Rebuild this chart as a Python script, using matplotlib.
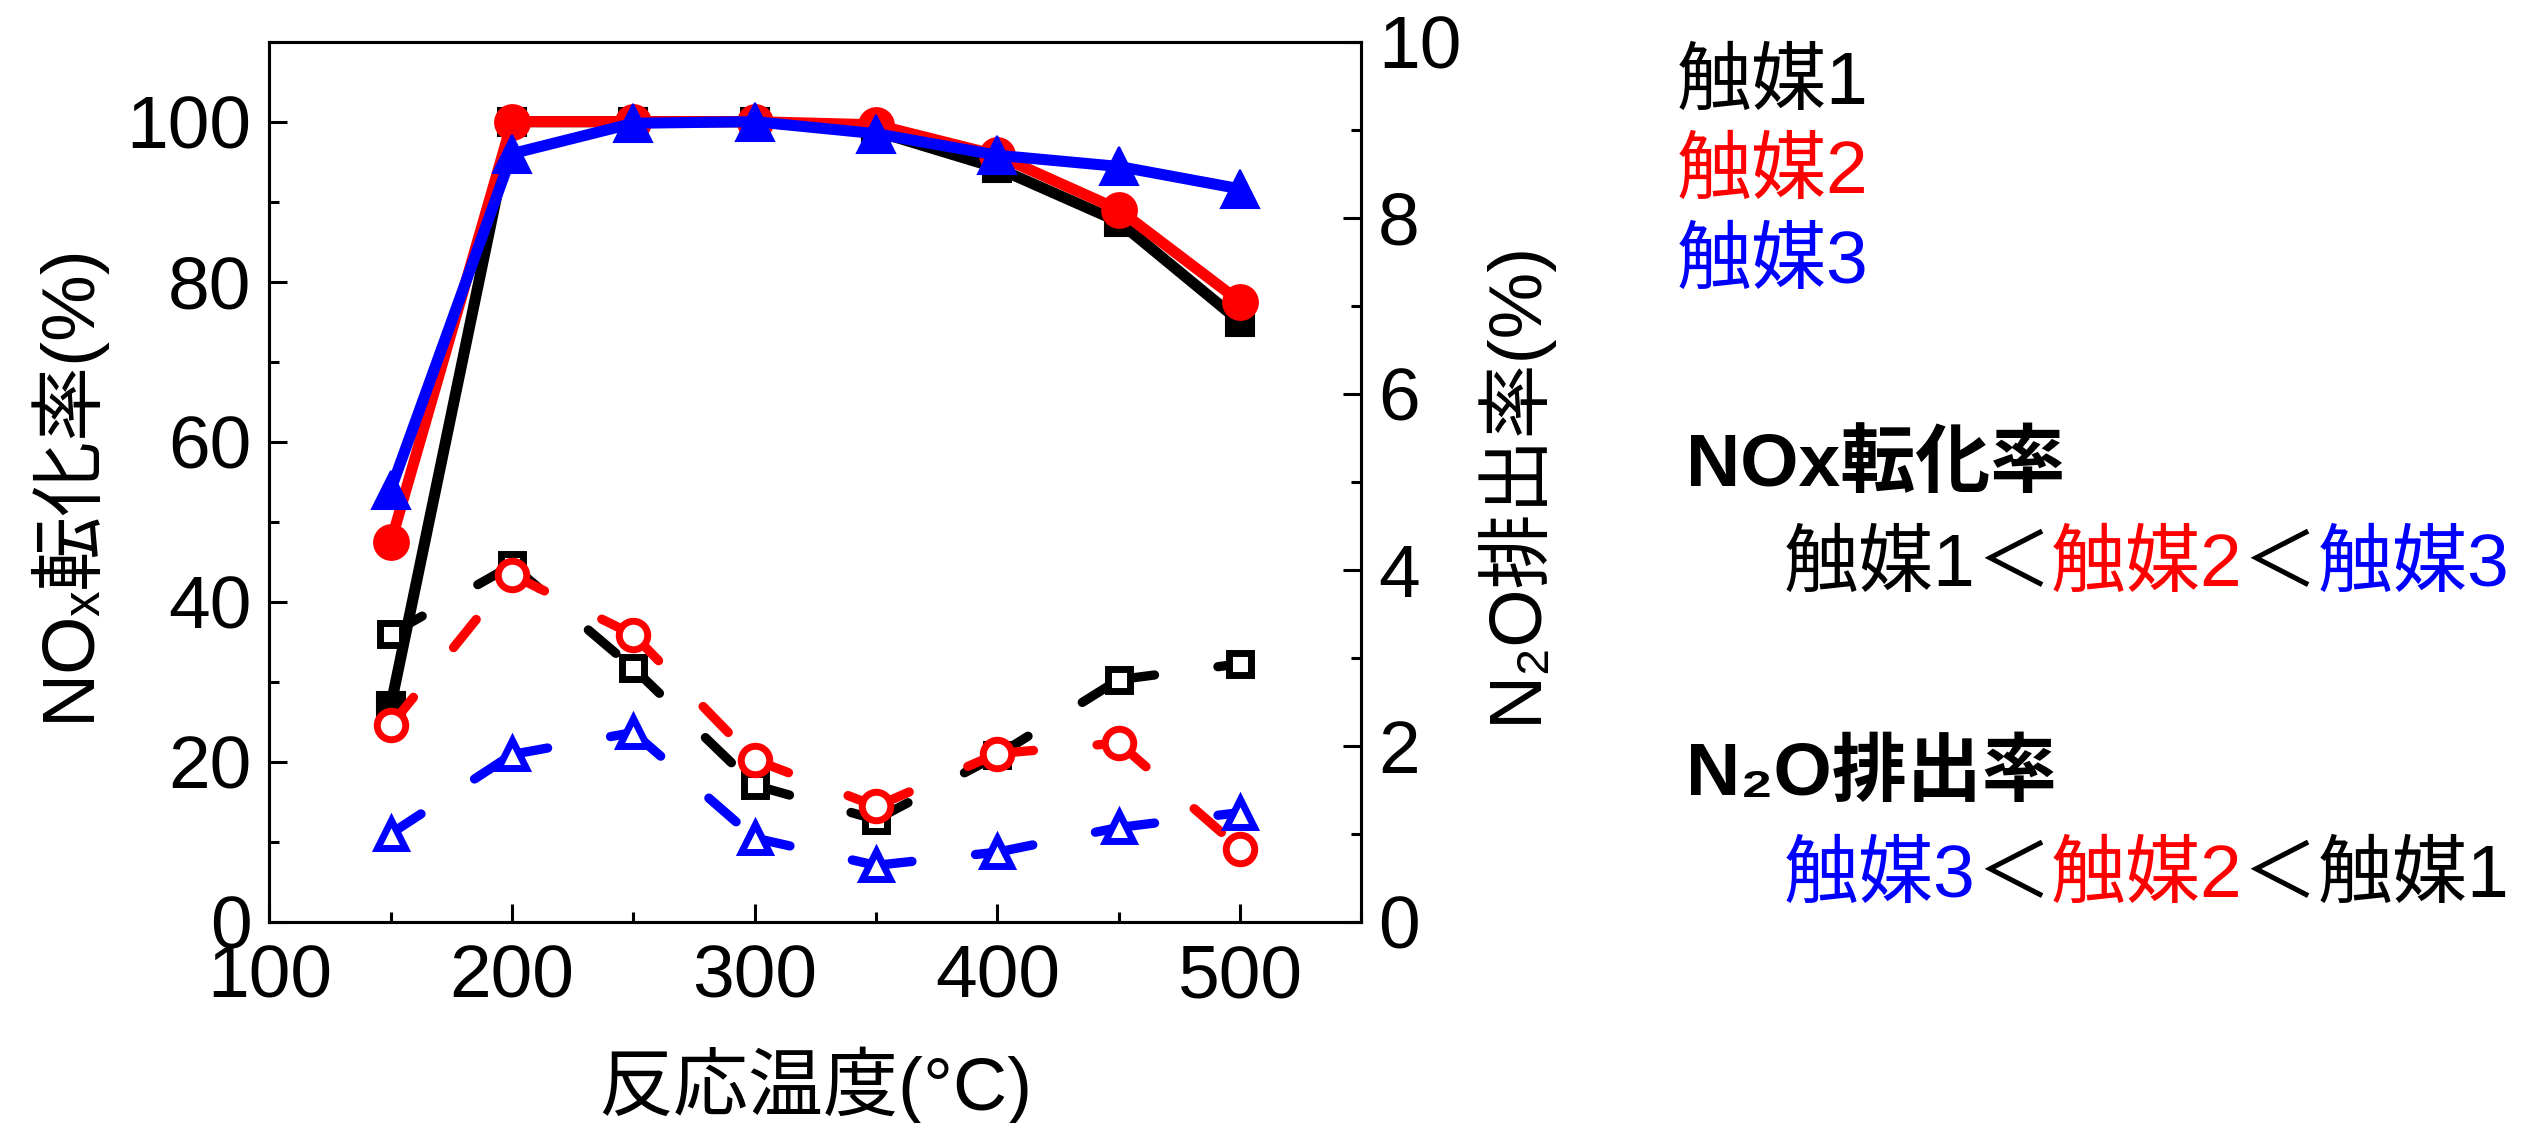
import matplotlib.pyplot as plt
from matplotlib.ticker import MultipleLocator

plt.rcParams['font.family'] = ['Liberation Sans', 'DejaVu Sans', 'Noto Sans CJK JP']
plt.rcParams['font.size'] = 54
plt.rcParams['lines.scale_dashes'] = False
plt.rcParams['axes.linewidth'] = 2.2

# reaction temperature (°C)
temps = [150, 200, 250, 300, 350, 400, 450, 500]

# NOx conversion (%), left axis
nox_cat1 = [27, 100, 100, 100, 98.8, 94.2, 87.5, 75]
nox_cat2 = [47.4, 100, 100, 100, 99.6, 95.8, 89, 77.5]
nox_cat3 = [54, 96, 99.8, 100, 98.5, 95.8, 94.4, 91.6]

# N2O emission (%), right axis
n2o_cat1 = [3.27, 4.05, 2.88, 1.55, 1.16, 1.89, 2.75, 2.93]
n2o_cat2 = [2.23, 3.94, 3.26, 1.84, 1.31, 1.91, 2.03, 0.83]
n2o_cat3 = [1.0, 1.9, 2.15, 0.95, 0.64, 0.79, 1.07, 1.24]

names = ['触媒1', '触媒2', '触媒3']
colors = ['black', 'red', 'blue']
markers = ['s', 'o', '^']
filled_size = [20, 25, 28]
open_size = [15.5, 20.5, 20.5]

fig = plt.figure(figsize=(25.3, 11.23), dpi=100)
ax = fig.add_axes([0.1065, 0.1793, 0.4316, 0.7836])
ax2 = ax.twinx()

# solid lines: NOx conversion
for nox, c, m, ms in zip([nox_cat1, nox_cat2, nox_cat3], colors, markers, filled_size):
    ax.plot(temps, nox, color=c, lw=8, marker=m, ms=ms, mec=c, mew=1.5,
            solid_joinstyle='round', solid_capstyle='round')

# dashed lines: N2O emission (dash pattern restarts at every point)
for n2o, c, m, ms in zip([n2o_cat1, n2o_cat2, n2o_cat3], colors, markers, open_size):
    for i in range(len(temps) - 1):
        ax2.plot(temps[i:i + 2], n2o[i:i + 2], color=c, lw=6.7,
                 dashes=(26, 46), dash_capstyle='round')
    ax2.plot(temps, n2o, ls='none', marker=m, ms=ms, mfc='white', mec=c, mew=5)

ax.set_xlim(100, 550)
ax.set_ylim(0, 110)
ax2.set_ylim(0, 10)

ax.xaxis.set_major_locator(MultipleLocator(100))
ax.xaxis.set_minor_locator(MultipleLocator(50))
ax.yaxis.set_major_locator(MultipleLocator(20))
ax.yaxis.set_minor_locator(MultipleLocator(10))
ax2.yaxis.set_major_locator(MultipleLocator(2))
ax2.yaxis.set_minor_locator(MultipleLocator(1))

ax.tick_params(which='both', direction='in', width=2.2, top=False, right=False)
ax.tick_params(which='major', length=13)
ax.tick_params(which='minor', length=7)
ax.tick_params(axis='x', which='both', pad=16)
ax.tick_params(axis='y', which='both', pad=13)
ax2.tick_params(which='both', direction='in', width=2.2, pad=12)
ax2.tick_params(which='major', length=13)
ax2.tick_params(which='minor', length=7)

ax.set_xlabel('反応温度(°C)', labelpad=24)
ax.set_ylabel('NOₓ転化率(%)', labelpad=16)
ax2.set_ylabel('N₂O排出率(%)', labelpad=8)

W, H = 2530, 1123


def chain_text(x, y, parts, **kw):
    # write several coloured pieces one after another on one baseline
    t = fig.text(x / W, 1 - y / H, parts[0][0], color=parts[0][1], va='baseline', **kw)
    for s, c in parts[1:]:
        t = ax.annotate(s, xy=(1, 0), xycoords=t, va='bottom', color=c,
                        annotation_clip=False, **kw)
    return t


# legend-like labels
for name, c, yb in zip(names, colors, [104, 193, 283]):
    fig.text(1677 / W, 1 - yb / H, name, color=c, va='baseline')

fig.text(1686 / W, 1 - 486 / H, 'NOx転化率', fontweight='bold', va='baseline')
chain_text(1784, 586, [('触媒1', 'black'), ('＜', 'black'), ('触媒2', 'red'),
                       ('＜', 'black'), ('触媒3', 'blue')])

fig.text(1686 / W, 1 - 795 / H, 'N₂O排出率', fontweight='bold', va='baseline')
chain_text(1784, 897, [('触媒3', 'blue'), ('＜', 'black'), ('触媒2', 'red'),
                       ('＜', 'black'), ('触媒1', 'black')])

plt.savefig('out.png', dpi=100)
